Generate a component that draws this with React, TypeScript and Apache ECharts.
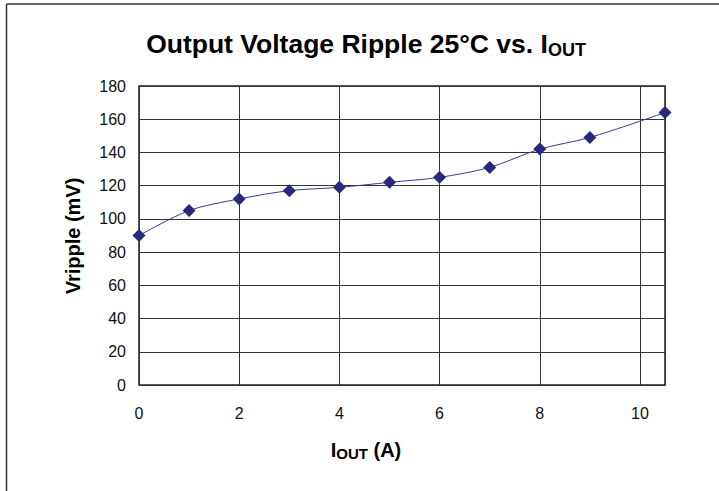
import React, { useEffect, useRef } from "react";
import * as echarts from "echarts";

const currentA = [0, 1, 2, 3, 4, 5, 6, 7, 8, 9, 10.5];
const rippleMv = [90, 105, 112, 117, 119, 122, 125, 131, 142, 149, 164];
const xTicks = { min: 0, max: 10.5, interval: 2 };
const yTicks = { min: 0, max: 180, interval: 20 };

const FONT = "Liberation Sans";

export default function App() {
  const ref = useRef<HTMLDivElement>(null);
  useEffect(() => {
    if (!ref.current) return;
    const chart = echarts.init(ref.current, undefined, { renderer: "svg" });
    const data = currentA.map((x, i) => [x, rippleMv[i]]);
    chart.setOption({
      animation: false,
      backgroundColor: "#fff",
      grid: {
        left: 139,
        right: 54,
        top: 86,
        bottom: 106,
        show: true,
        borderColor: "#222",
        borderWidth: 1.5,
      },
      xAxis: {
        type: "value",
        min: xTicks.min,
        max: xTicks.max,
        interval: xTicks.interval,
        axisLine: { show: false },
        axisTick: { show: false },
        splitLine: { show: true, lineStyle: { color: "#333", width: 1 } },
        axisLabel: {
          fontSize: 16,
          color: "#111",
          margin: 20,
          fontFamily: FONT,
          showMaxLabel: false,
        },
      },
      yAxis: {
        type: "value",
        min: yTicks.min,
        max: yTicks.max,
        interval: yTicks.interval,
        axisLine: { show: false },
        axisTick: { show: false },
        splitLine: { show: true, lineStyle: { color: "#333", width: 1 } },
        axisLabel: { fontSize: 16, color: "#111", margin: 13, fontFamily: FONT },
      },
      graphic: [
        {
          type: "line",
          shape: { x1: 6.5, y1: 4, x2: 719, y2: 4 },
          style: { stroke: "#333", lineWidth: 1.5 },
        },
        {
          type: "line",
          shape: { x1: 6.5, y1: 4, x2: 6.5, y2: 491 },
          style: { stroke: "#333", lineWidth: 1.5 },
        },
        {
          type: "text",
          x: 366,
          y: 44,
          style: {
            text: "{a|Output Voltage Ripple 25°C vs. I}{b|OUT}",
            align: "center",
            verticalAlign: "middle",
            rich: {
              a: { fontSize: 26.5, fontWeight: "bold", fontFamily: FONT, fill: "#000", lineHeight: 30 },
              b: { fontSize: 18, fontWeight: "bold", fontFamily: FONT, fill: "#000", lineHeight: 14, verticalAlign: "bottom" },
            },
          },
        },
        {
          type: "text",
          x: 73,
          y: 236,
          rotation: Math.PI / 2,
          style: {
            text: "Vripple (mV)",
            align: "center",
            verticalAlign: "middle",
            fontSize: 20,
            fontWeight: "bold",
            fontFamily: FONT,
            fill: "#000",
          },
        },
        {
          type: "text",
          x: 366,
          y: 450,
          style: {
            text: "{a|I}{b|OUT}{a| (A)}",
            align: "center",
            verticalAlign: "middle",
            rich: {
              a: { fontSize: 20, fontWeight: "bold", fontFamily: FONT, fill: "#000", lineHeight: 22 },
              b: { fontSize: 15, fontWeight: "bold", fontFamily: FONT, fill: "#000", lineHeight: 11, verticalAlign: "bottom" },
            },
          },
        },
      ],
      series: [
        {
          type: "line",
          data,
          smooth: 0.3,
          symbol: "diamond",
          symbolSize: 13,
          itemStyle: { color: "#28297A" },
          lineStyle: { color: "#3a3c8c", width: 1 },
        },
      ],
    });
    return () => chart.dispose();
  }, []);
  return (
    <div
      ref={ref}
      style={{ position: "absolute", left: 0, top: 0, width: 719, height: 491 }}
    />
  );
}
